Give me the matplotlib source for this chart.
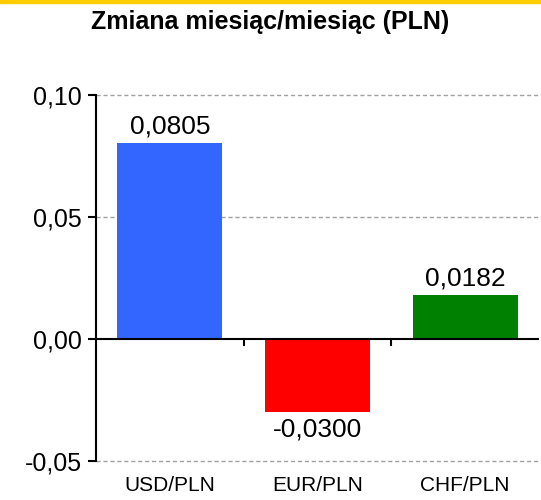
import matplotlib
matplotlib.use("Agg")
import matplotlib.pyplot as plt

plt.rcParams['font.family'] = ['Liberation Sans', 'DejaVu Sans']

categories = ["USD/PLN", "EUR/PLN", "CHF/PLN"]
values = [0.0805, -0.0300, 0.0182]
colors = ["#3366ff", "#ff0000", "#008000"]
yticks = [-0.05, 0.00, 0.05, 0.10]
ytick_labels = ["-0,05", "0,00", "0,05", "0,10"]
title = "Zmiana miesiąc/miesiąc (PLN)"

fig = plt.figure(figsize=(5.41, 5.0), dpi=100)
ax = fig.add_axes([96 / 541, 39 / 500, 443 / 541, 366 / 500])

# thin yellow band along the top edge
fig.patches.append(plt.Rectangle((0, 497 / 500), 1, 3 / 500, transform=fig.transFigure,
                                 color="#ffcc00", zorder=0))

x = list(range(len(categories)))
ax.bar(x, values, width=0.71, color=colors, zorder=3)
ax.set_xlim(-0.5, len(categories) - 0.5)
ax.set_ylim(-0.05, 0.10)

ax.set_yticks(yticks)
ax.set_yticklabels(ytick_labels, fontsize=18)
ax.tick_params(axis='y', length=6, width=1.5, pad=4)

# dashed gridlines (unclipped so the edge lines are drawn in full)
for yt in yticks:
    if yt != 0:
        ax.axhline(yt, linestyle=(0, (3, 2)), color="#a0a0a0", linewidth=1,
                   zorder=0, clip_on=False)

ax.set_xticks(x)
ax.set_xticklabels(categories, fontsize=15)
ax.tick_params(axis='x', length=0, pad=11)

for side in ("top", "right", "bottom"):
    ax.spines[side].set_visible(False)
ax.spines["left"].set_linewidth(1.5)
ax.spines["left"].set_zorder(5)

# zero line with category-boundary ticks
ax.axhline(0, color="black", linewidth=1.5, zorder=4)
for b in [0.5, 1.5]:
    ax.plot([b, b], [0, -0.0025], color="black", linewidth=1.5, zorder=4, clip_on=False)

for xi, v in zip(x, values):
    label = f"{v:.4f}".replace(".", ",")
    if v >= 0:
        ax.annotate(label, (xi, v), xytext=(0, 3), textcoords="offset points",
                    ha="center", va="bottom", fontsize=19)
    else:
        ax.annotate(label, (xi, v), xytext=(0, -4), textcoords="offset points",
                    ha="center", va="top", fontsize=19)

fig.text(0.5, 0.955, title, ha="center", va="center", fontsize=18, fontweight="bold")

fig.savefig("out.png", dpi=100)
